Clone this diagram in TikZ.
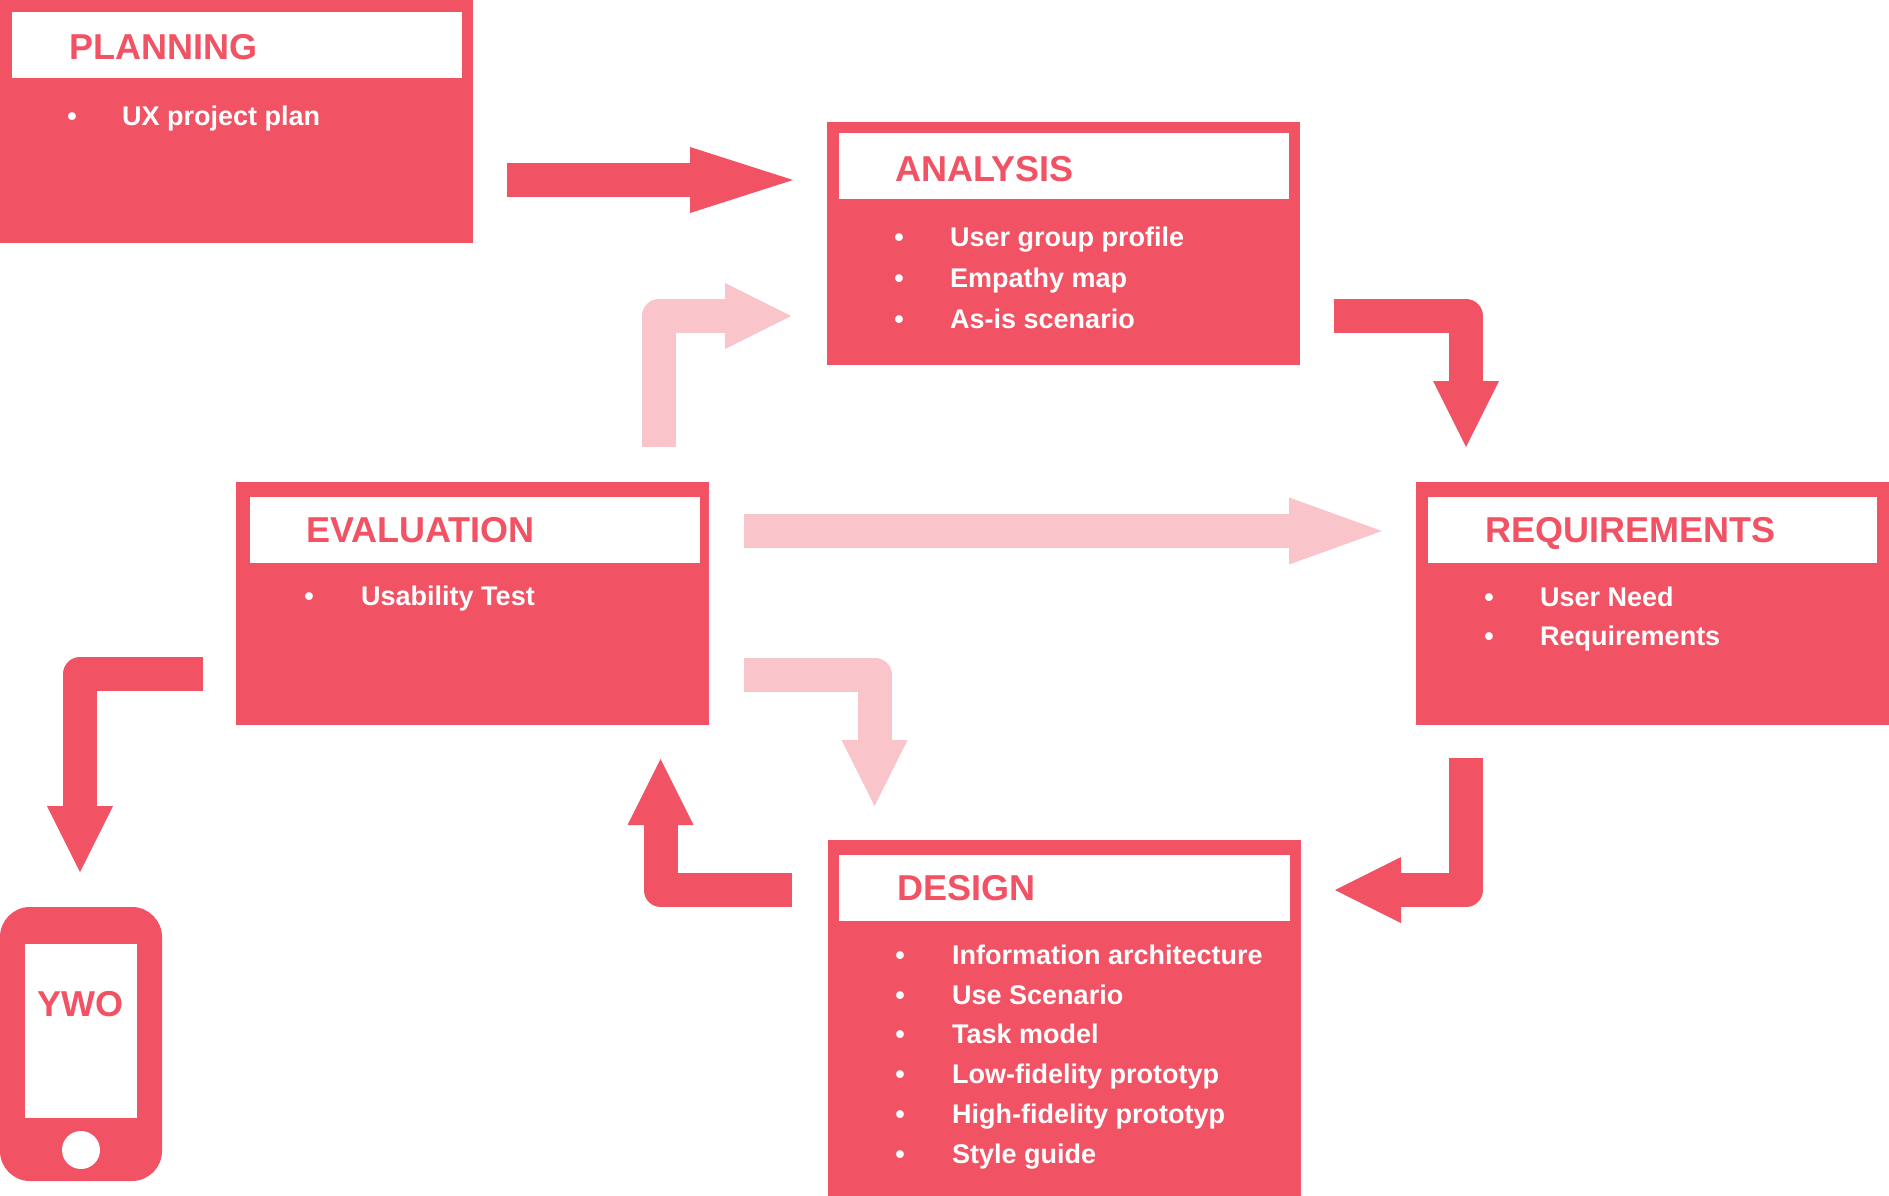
\documentclass[tikz,border=0pt]{standalone}
\usepackage{fontspec}
\setmainfont{Liberation Sans}
\usetikzlibrary{arrows.meta}
\definecolor{uxred}{RGB}{241,82,100}
\definecolor{uxpink}{RGB}{249,197,203}
\begin{document}
\begin{tikzpicture}[x=1pt,y=-1pt,
  box/.style={fill=uxred, minimum width=473pt, minimum height=243pt, inner sep=0pt, outer sep=0pt, anchor=north west},
  hdr/.style={fill=white, minimum width=450pt, minimum height=66pt, inner sep=0pt, outer sep=0pt, anchor=north west},
  ttl/.style={anchor=base west, inner sep=0pt, text=uxred, font=\fontsize{36}{43}\selectfont\bfseries},
  itm/.style={anchor=base west, inner sep=0pt, text=white, font=\fontsize{27}{32}\selectfont\bfseries},
  bul/.style={anchor=base, inner sep=0pt, text=white, font=\fontsize{27}{32}\selectfont\bfseries},
  blk/.style={line width=34pt, line join=round, line cap=butt},
  redblk/.style={blk, draw=uxred},
  pinkblk/.style={blk, draw=uxpink},
  headsq/.style={-{Triangle[width=66pt,length=66pt,line width=0pt]}},
]
\useasboundingbox (0,0) rectangle (1889,1196);
\fill[white] (0,0) rectangle (1889,1196);

% ---------- PLANNING ----------
\node[box] (plan) at (0,0) {};
\node[hdr] (planh) at (12,12) {};
\node[ttl] (plant) at (69,60) {PLANNING};
\node[bul] (planb1) at (72,125) {•};
\node[itm] (plani1) at (122,125) {UX project plan};

% ---------- ANALYSIS ----------
\node[box] (ana) at (827,122) {};
\node[hdr] (anah) at (839,133) {};
\node[ttl] (anat) at (895,181) {ANALYSIS};
\node[bul] (anab1) at (899,246) {•};
\node[itm] (anai1) at (950,246) {User group profile};
\node[bul] (anab2) at (899,287) {•};
\node[itm] (anai2) at (950,287) {Empathy map};
\node[bul] (anab3) at (899,328) {•};
\node[itm] (anai3) at (950,328) {As-is scenario};

% ---------- EVALUATION ----------
\node[box] (eva) at (236,482) {};
\node[hdr] (evah) at (250,497) {};
\node[ttl] (evat) at (306,542) {EVALUATION};
\node[bul] (evab1) at (309,605) {•};
\node[itm] (evai1) at (361,605) {Usability Test};

% ---------- REQUIREMENTS ----------
\node[box] (req) at (1416,482) {};
\node[hdr, minimum width=449pt] (reqh) at (1428,497) {};
\node[ttl] (reqt) at (1485,542) {REQUIREMENTS};
\node[bul] (reqb1) at (1489,606) {•};
\node[itm] (reqi1) at (1540,606) {User Need};
\node[bul] (reqb2) at (1489,645) {•};
\node[itm] (reqi2) at (1540,645) {Requirements};

% ---------- DESIGN ----------
\node[box, minimum height=356pt] (des) at (828,840) {};
\node[hdr, minimum width=451pt] (desh) at (839,855) {};
\node[ttl] (dest) at (897,900) {DESIGN};
\node[bul] (desb1) at (900,964) {•};
\node[itm] (desi1) at (952,964) {Information architecture};
\node[bul] (desb2) at (900,1004) {•};
\node[itm] (desi2) at (952,1004) {Use Scenario};
\node[bul] (desb3) at (900,1043) {•};
\node[itm] (desi3) at (952,1043) {Task model};
\node[bul] (desb4) at (900,1083) {•};
\node[itm] (desi4) at (952,1083) {Low-fidelity prototyp};
\node[bul] (desb5) at (900,1123) {•};
\node[itm] (desi5) at (952,1123) {High-fidelity prototyp};
\node[bul] (desb6) at (900,1163) {•};
\node[itm] (desi6) at (952,1163) {Style guide};

% ---------- PHONE ----------
\fill[uxred, rounded corners=30pt] (0,907) rectangle (162,1181);
\node[fill=white, minimum width=112pt, minimum height=174pt, inner sep=0pt, anchor=north west] (screen) at (25,944) {};
\fill[white] (81,1150) circle [radius=19];
\node[anchor=base, inner sep=0pt, text=uxred, font=\fontsize{36}{43}\selectfont\bfseries] (ywo) at (80,1016) {YWO};

% ---------- ARROW END POINTS ----------
\coordinate (a1s) at (507,180);   \coordinate (a1e) at (793,180);
\coordinate (a2s) at (659,447);   \coordinate (a2c) at (659,316);   \coordinate (a2e) at (791,316);
\coordinate (a3s) at (1334,316);  \coordinate (a3c) at (1466,316);  \coordinate (a3e) at (1466,447);
\coordinate (a4s) at (744,531);   \coordinate (a4e) at (1382,531);
\coordinate (a5s) at (1466,758);  \coordinate (a5c) at (1466,890);  \coordinate (a5e) at (1335,890);
\coordinate (a6s) at (744,674.5); \coordinate (a6c) at (874.5,674.5); \coordinate (a6e) at (874.5,806);
\coordinate (a7s) at (792,890);   \coordinate (a7c) at (660.5,890); \coordinate (a7e) at (660.5,759);
\coordinate (a8s) at (203,674);   \coordinate (a8c) at (80,674);    \coordinate (a8e) at (80,872);

% ---------- ARROWS ----------
\draw[redblk, -{Triangle[width=66pt,length=103pt,line width=0pt]}] (a1s) -- (a1e);
\draw[pinkblk, headsq] (a2s) -- (a2c) -- (a2e);
\draw[redblk, headsq] (a3s) -- (a3c) -- (a3e);
\draw[pinkblk, -{Triangle[width=67pt,length=93pt,line width=0pt]}] (a4s) -- (a4e);
\draw[redblk, headsq] (a5s) -- (a5c) -- (a5e);
\draw[pinkblk, headsq] (a6s) -- (a6c) -- (a6e);
\draw[redblk, headsq] (a7s) -- (a7c) -- (a7e);
\draw[redblk, headsq] (a8s) -- (a8c) -- (a8e);
\end{tikzpicture}
\end{document}
